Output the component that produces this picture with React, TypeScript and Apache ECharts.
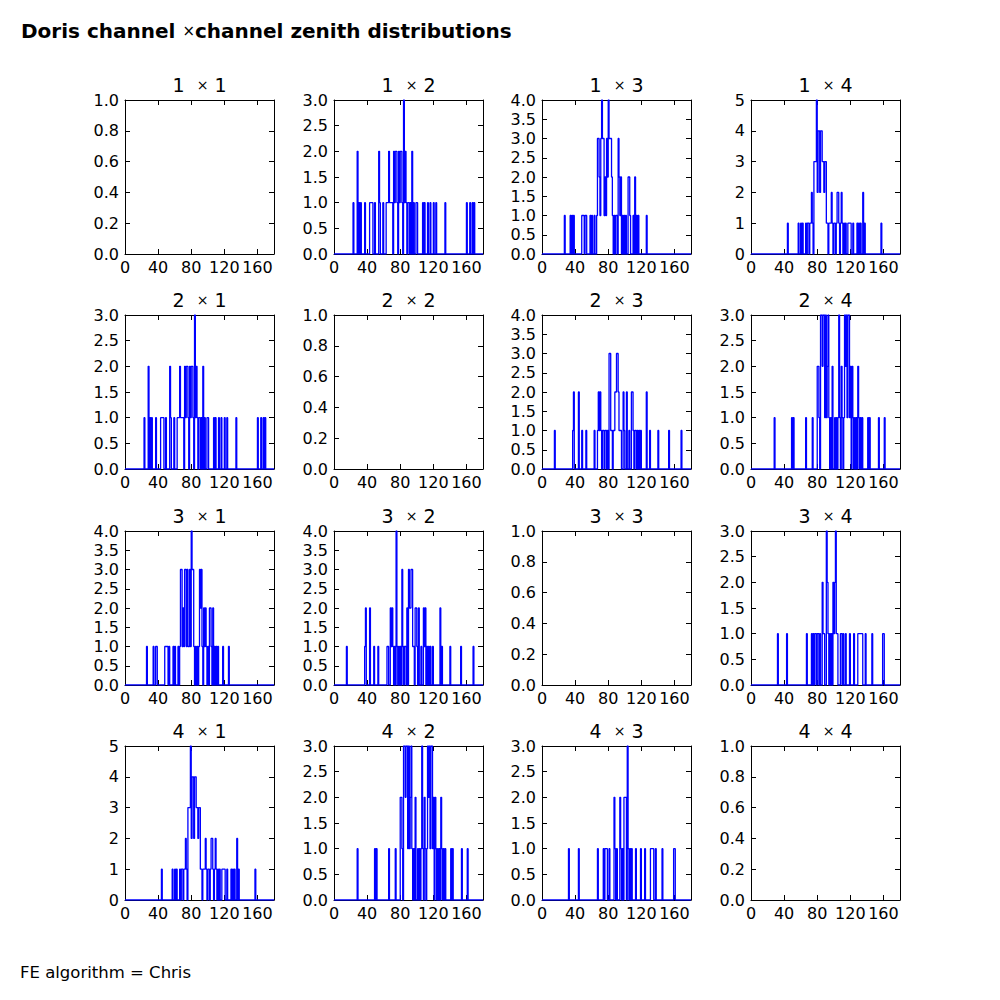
import React, { useEffect, useRef } from "react";
import * as echarts from "echarts";

// ---- data (zenith angle bin in degrees, count) ----
const channels = [1, 2, 3, 4];
const xTickValues = [0, 40, 80, 120, 160];

const hist12: [number, number][] = [[23,1],[28,2],[30,1],[32,1],[37,1],[43,1],[44,1],[45,1],[46,1],[49,1],[54,2],[55,1],[59,1],[63,1],[64,1],[65,1],[66,2],[67,1],[68,1],[69,1],[70,1],[72,2],[73,1],[74,2],[75,2],[76,1],[78,2],[79,1],[80,2],[81,2],[82,1],[84,3],[85,1],[86,2],[87,1],[89,1],[90,1],[92,1],[94,2],[96,1],[99,1],[100,1],[107,1],[109,1],[113,1],[116,1],[120,1],[123,1],[134,1],[160,1],[164,1],[167,1],[169,1]];
const hist13: [number, number][] = [[27,1],[34,1],[36,1],[38,1],[48,1],[49,1],[50,1],[52,1],[53,1],[58,1],[60,1],[63,1],[66,1],[67,3],[68,3],[69,2],[70,1],[71,3],[72,4],[73,3],[74,3],[75,1],[76,2],[77,1],[78,3],[79,2],[80,4],[81,3],[82,3],[83,3],[84,2],[85,1],[87,1],[89,1],[90,1],[92,3],[93,2],[94,1],[95,2],[97,1],[99,1],[101,1],[104,2],[105,2],[106,1],[110,1],[112,2],[114,1],[116,1],[126,1]];
const hist31: [number, number][] = [[26,1],[34,1],[37,1],[38,1],[48,1],[49,1],[50,1],[51,1],[53,1],[58,1],[60,1],[64,1],[66,1],[67,3],[68,3],[69,1],[70,2],[71,1],[72,3],[73,3],[74,1],[75,3],[76,1],[77,1],[78,3],[79,1],[80,4],[81,3],[82,3],[83,1],[85,1],[87,1],[89,1],[90,3],[91,2],[92,3],[93,1],[95,2],[96,1],[97,2],[98,1],[100,1],[102,2],[103,2],[104,1],[106,2],[108,1],[110,1],[112,1],[118,1],[125,1]];
const hist14: [number, number][] = [[44,1],[57,1],[60,1],[62,1],[66,1],[68,1],[69,1],[71,1],[72,1],[73,2],[74,1],[76,3],[77,3],[78,3],[79,5],[80,2],[81,4],[82,4],[83,2],[84,4],[85,4],[86,3],[87,3],[88,2],[89,3],[90,3],[91,1],[92,1],[94,1],[95,1],[96,1],[97,2],[98,1],[100,1],[101,1],[103,1],[104,2],[105,2],[106,1],[108,1],[109,2],[110,1],[112,1],[114,1],[117,1],[118,1],[119,1],[120,1],[123,1],[128,1],[130,1],[132,1],[135,2],[137,1],[157,1]];
const hist23: [number, number][] = [[15,1],[37,1],[38,2],[44,2],[48,1],[53,1],[63,1],[67,1],[68,2],[69,1],[70,2],[71,1],[73,1],[74,1],[76,1],[77,1],[79,1],[81,3],[82,3],[83,1],[84,1],[86,1],[87,1],[88,2],[89,2],[90,3],[91,3],[92,2],[93,1],[94,1],[95,1],[98,2],[99,1],[102,2],[105,1],[108,2],[109,2],[110,1],[112,1],[113,1],[115,1],[117,1],[119,1],[126,2],[130,1],[140,1],[153,1],[168,1]];
const hist32: [number, number][] = [[15,1],[37,1],[38,2],[43,2],[48,1],[53,1],[64,1],[65,1],[68,2],[69,1],[70,2],[71,1],[73,1],[75,4],[76,1],[78,1],[80,1],[82,3],[83,1],[85,1],[86,1],[88,2],[90,3],[91,2],[92,2],[93,3],[94,3],[95,1],[96,1],[98,2],[99,2],[100,1],[102,2],[105,1],[108,2],[109,1],[110,2],[112,1],[114,1],[116,1],[119,1],[128,2],[130,1],[140,1],[153,1],[168,1]];
const hist24: [number, number][] = [[28,1],[49,1],[51,1],[66,1],[74,1],[80,2],[81,2],[82,1],[84,3],[85,3],[86,2],[87,3],[88,3],[89,1],[90,3],[91,1],[92,2],[93,3],[94,1],[96,1],[98,2],[101,1],[103,1],[105,1],[106,3],[107,1],[109,2],[110,1],[112,1],[113,3],[114,2],[115,3],[116,1],[117,3],[118,3],[119,1],[120,2],[122,2],[123,1],[125,1],[127,1],[129,2],[130,1],[132,1],[134,1],[141,1],[143,1],[154,1],[161,1]];
const hist34: [number, number][] = [[32,1],[43,1],[67,1],[73,1],[75,1],[77,1],[78,1],[80,1],[81,1],[83,1],[86,2],[87,1],[88,1],[91,3],[92,2],[93,1],[95,1],[97,1],[99,2],[100,1],[101,2],[102,3],[103,1],[104,1],[108,1],[109,1],[111,1],[114,1],[119,1],[124,1],[129,1],[130,1],[131,1],[132,1],[133,1],[134,1],[138,1],[146,1],[159,1],[160,1]];
const hist43: [number, number][] = [[32,1],[44,1],[67,1],[74,1],[76,1],[77,1],[78,1],[81,1],[87,2],[88,1],[90,1],[94,2],[95,1],[97,1],[99,2],[100,2],[101,2],[103,3],[104,1],[106,1],[108,1],[113,1],[119,1],[124,1],[131,1],[132,1],[133,1],[134,1],[137,1],[145,1],[159,1],[160,1]];

// panel grid [row][col] -> histogram (null = empty diagonal)
const panelHists: ([number, number][] | null)[][] = [
  [null, hist12, hist13, hist14],
  [hist12, null, hist23, hist24],
  [hist31, hist32, null, hist34],
  [hist14, hist24, hist43, null],
];
const yMaxes = [
  [1, 3, 4, 5],
  [3, 1, 4, 3],
  [4, 4, 1, 3],
  [5, 3, 3, 1],
];
const ySteps = [
  [0.2, 0.5, 0.5, 1],
  [0.5, 0.2, 0.5, 0.5],
  [0.5, 0.5, 0.2, 0.5],
  [1, 0.5, 0.5, 0.2],
];

const titleBefore = "Doris channel ";
const titleAfter = "channel zenith distributions";
const footer = "FE algorithm = Chris";

// ---- layout ----
const colLeft = [125, 334, 542, 751];
const rowTop = [100, 315, 531, 746];
const PW = 149;
const PH = 154;
const FONT = "DejaVu Sans";

function stepPoints(h: [number, number][]): number[][] {
  const counts = new Array(180).fill(0);
  h.forEach(([d, n]) => {
    counts[d] = n;
  });
  const pts = counts.map((v, i) => [i, v]);
  pts.push([180, counts[179]]);
  pts.push([180, 0]);
  return pts;
}

function buildOption() {
  const grids: any[] = [];
  const xAxes: any[] = [];
  const yAxes: any[] = [];
  const series: any[] = [];
  const graphics: any[] = [];
  const tickStyle = { inside: true, length: 5, lineStyle: { color: "#000", width: 1 } };
  const lineStyle = { show: true, onZero: false, lineStyle: { color: "#000", width: 1 } };
  const labelBase = { color: "#000", fontFamily: FONT, fontSize: 16 };

  channels.forEach((ci, r) => {
    channels.forEach((cj, c) => {
      const k = grids.length;
      grids.push({ left: colLeft[c], top: rowTop[r], width: PW, height: PH, containLabel: false });
      const step = ySteps[r][c];
      const ymax = yMaxes[r][c];
      xAxes.push({
        type: "value", gridIndex: k, position: "bottom", min: 0, max: 180, interval: 40,
        axisLine: lineStyle, axisTick: tickStyle, splitLine: { show: false },
        axisLabel: { ...labelBase, margin: 5, showMaxLabel: false, formatter: (v: number) => (xTickValues.indexOf(v) >= 0 ? String(v) : "") },
      });
      xAxes.push({
        type: "value", gridIndex: k, position: "top", min: 0, max: 180, interval: 40,
        axisLine: lineStyle, axisTick: tickStyle, splitLine: { show: false }, axisLabel: { show: false },
      });
      yAxes.push({
        type: "value", gridIndex: k, position: "left", min: 0, max: ymax, interval: step,
        axisLine: lineStyle, axisTick: tickStyle, splitLine: { show: false },
        axisLabel: { ...labelBase, margin: 6, formatter: (v: number) => (step < 1 ? v.toFixed(1) : String(Math.round(v))) },
      });
      yAxes.push({
        type: "value", gridIndex: k, position: "right", min: 0, max: ymax, interval: step,
        axisLine: lineStyle, axisTick: tickStyle, splitLine: { show: false }, axisLabel: { show: false },
      });
      const h = panelHists[r][c];
      if (h) {
        series.push({
          type: "line", xAxisIndex: 2 * k, yAxisIndex: 2 * k, step: "end",
          data: stepPoints(h), showSymbol: false, symbol: "none",
          lineStyle: { color: "#0000ff", width: 1.3 }, silent: true,
        });
      }
      graphics.push({
        type: "text", x: colLeft[c] + PW / 2, y: rowTop[r] - 15,
        style: {
          text: `${ci}\u00a0\u00a0{m|\u00d7}\u00a0${cj}`,
          fill: "#000", font: `19px '${FONT}'`, align: "center", verticalAlign: "middle",
          rich: { m: { fontSize: 14, fontFamily: FONT, fill: "#000" } },
        },
      });
    });
  });

  graphics.push({
    type: "text", x: 21, y: 31,
    style: {
      text: `${titleBefore}{m|\u00d7}${titleAfter}`,
      fill: "#000", font: `bold 20px '${FONT}'`, align: "left", verticalAlign: "middle",
      rich: { m: { fontSize: 15, fontWeight: "normal", fontFamily: FONT, fill: "#000" } },
    },
  });
  graphics.push({
    type: "text", x: 20, y: 972,
    style: { text: footer, fill: "#000", font: `16.5px '${FONT}'`, align: "left", verticalAlign: "middle" },
  });

  return {
    animation: false,
    backgroundColor: "#ffffff",
    grid: grids,
    xAxis: xAxes,
    yAxis: yAxes,
    series,
    graphic: graphics,
  };
}

export default function App() {
  const ref = useRef<HTMLDivElement>(null);
  useEffect(() => {
    if (!ref.current) return;
    const chart = echarts.init(ref.current, undefined, { renderer: "svg" });
    chart.setOption(buildOption() as any);
    return () => chart.dispose();
  }, []);
  return (
    <div
      ref={ref}
      style={{ position: "absolute", left: 0, top: 0, width: 1000, height: 1000, background: "#fff" }}
    />
  );
}
